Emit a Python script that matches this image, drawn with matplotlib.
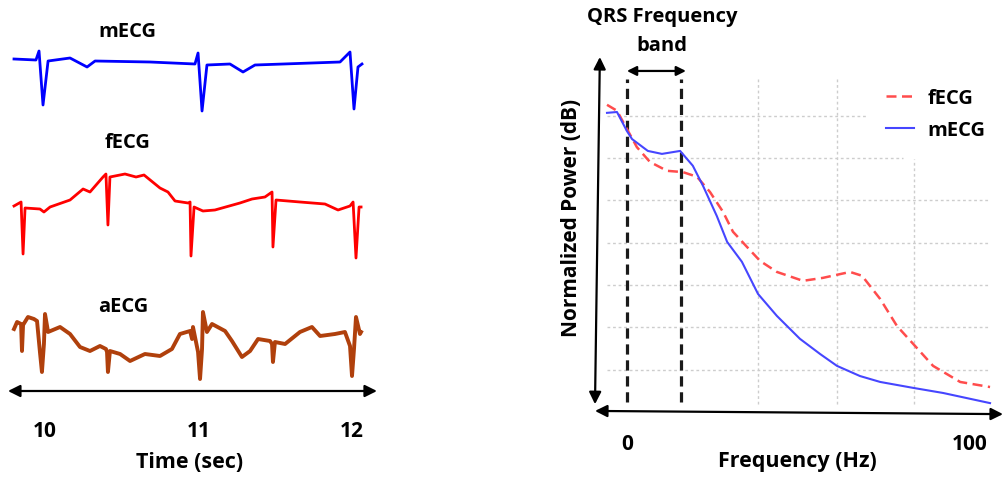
import matplotlib
matplotlib.use("Agg")
import matplotlib.pyplot as plt

plt.rcParams['font.family'] = ['Open Sans', 'DejaVu Sans']
plt.rcParams['font.weight'] = 'bold'
plt.rcParams['axes.labelweight'] = 'bold'

# ---- time traces (seconds, normalized amplitude) ----
m_t = [9.798, 9.941, 9.961, 9.987, 10.020, 10.163, 10.274, 10.326, 10.684, 10.977,
       10.997, 11.023, 11.055, 11.205, 11.290, 11.368, 11.922, 11.987, 12.013, 12.039, 12.065]
m_a = [0, -0.02, 0.16, -0.92, -0.04, 0.02, -0.16, -0.04, -0.06, -0.10,
       0.12, -1.04, -0.12, -0.10, -0.26, -0.12, -0.06, 0.14, -1.0, -0.16, -0.10]

f_t = [9.798, 9.844, 9.857, 9.870, 9.967, 9.993, 10.033, 10.163, 10.248, 10.293,
       10.378, 10.397, 10.410, 10.423, 10.521, 10.593, 10.645, 10.749, 10.801, 10.847,
       10.932, 10.945, 10.951, 10.971, 11.029, 11.107, 11.270, 11.349, 11.433, 11.479,
       11.485, 11.505, 11.661, 11.824, 11.909, 11.987, 12.007, 12.026, 12.046, 12.059]
f_a = [0, 0.08, -0.96, -0.04, -0.06, -0.12, -0.02, 0.12, 0.34, 0.28,
       0.58, 0.64, -0.38, 0.58, 0.64, 0.58, 0.62, 0.36, 0.28, 0.10,
       0.06, 0.08, -1.00, -0.02, -0.10, -0.08, 0.06, 0.14, 0.18, 0.28,
       -0.82, 0.12, 0.08, 0.04, -0.08, 0, 0.08, -1.04, -0.02, -0.02]

a_t = [9.798, 9.818, 9.844, 9.850, 9.857, 9.889, 9.928, 9.948, 9.967, 9.980,
       9.993, 10.000, 10.020, 10.098, 10.163, 10.228, 10.293, 10.358, 10.397, 10.404,
       10.410, 10.423, 10.489, 10.554, 10.651, 10.749, 10.827, 10.879, 10.945, 10.958,
       10.964, 10.997, 11.010, 11.023, 11.029, 11.055, 11.088, 11.173, 11.218, 11.283,
       11.336, 11.388, 11.466, 11.479, 11.485, 11.498, 11.564, 11.661, 11.739, 11.792,
       11.889, 11.954, 11.987, 12.000, 12.013, 12.026, 12.052, 12.059]
a_a = [0, 0.14, 0.10, -0.44, 0.08, 0.24, 0.20, 0.16, -0.46, -0.86,
       -0.30, 0.30, -0.06, 0.04, -0.10, -0.36, -0.44, -0.34, -0.40, -0.46,
       -0.86, -0.44, -0.50, -0.64, -0.50, -0.54, -0.40, -0.10, -0.04, -0.20,
       0.04, -0.46, -1.00, -0.40, 0.34, -0.06, 0.10, -0.04, -0.24, -0.56,
       -0.44, -0.20, -0.24, -0.30, -0.66, -0.26, -0.30, -0.06, 0.04, -0.14,
       -0.10, -0.06, -0.34, -0.94, -0.40, 0.24, -0.10, -0.06]

offsets = [0, -2.94, -5.4]
names = ['mECG', 'fECG', 'aECG']
time_ticks = [10, 11, 12]

# ---- spectra (Hz, normalized power dB) ----
spec_f_m = [-5.8, -2.9, 0, 1.5, 6.1, 10.2, 15.5, 19.2, 22.2, 26.2, 29.2, 33.5,
            38.2, 43.7, 50.4, 56.3, 61.2, 67.9, 73.8, 83.4, 92.1, 105.8]
spec_p_m = [70.7, 70.9, 66.4, 64.5, 61.7, 61.0, 61.7, 58.2, 53.4, 46.3, 40.2, 35.5,
            27.9, 22.7, 17.3, 13.7, 10.9, 8.5, 7.1, 5.7, 4.5, 2.1]
spec_f_f = [-5.8, -2.9, 0, 2.9, 6.7, 11.7, 16.3, 20.4, 24.2, 28.0, 30.9, 35.0,
            38.8, 43.7, 51.3, 57.1, 65.0, 68.5, 73.8, 78.7, 83.4, 89.2, 97.1, 105.8]
spec_p_f = [72.6, 71.2, 66.9, 62.6, 59.1, 57.0, 56.7, 55.6, 52.0, 47.3, 42.6, 39.0,
            35.7, 33.1, 31.0, 31.7, 33.1, 32.2, 26.7, 20.3, 16.1, 10.9, 7.1, 5.9]
band = [0, 15.7]
grid_p = [70, 60, 50, 40, 30, 20, 10]
grid_p_end = [70.3, 80.5, 105.8, 105.8, 105.8, 105.8, 105.8]
grid_f = [38.2, 61.2, 83.7]
grid_f_top = [78.7, 78.7, 59.8]

W, H = 1003, 481
fig = plt.figure(figsize=(W / 100, H / 100), dpi=100)

# ---------------- left panel ----------------
ax1 = fig.add_axes([0, (H - 392) / H, 380 / W, 392 / H])
ax1.set_xlim(9.7068, 12.1824)
ax1.set_ylim(-6.64, 1.2)
colors = ['#0000ff', '#ff0000', '#b0400c']
widths = [2.0, 2.0, 2.8]
for (t, a), off, c, lw in zip([(m_t, m_a), (f_t, f_a), (a_t, a_a)], offsets, colors, widths):
    ax1.plot(t, [v + off for v in a], color=c, lw=lw)
ax1.text(10.534, 0.56, names[0], ha='center', va='center', fontsize=14.5)
ax1.text(10.541, -1.66, names[1], ha='center', va='center', fontsize=14.5)
ax1.text(10.508, -4.94, names[2], ha='center', va='center', fontsize=14.5)
for s in ax1.spines.values():
    s.set_visible(False)
ax1.set_yticks([])
ax1.set_xticks(time_ticks)
ax1.tick_params(axis='x', length=0, pad=21, labelsize=15)
ax1.set_xlabel('Time (sec)', fontsize=15.5, labelpad=7)
ax1.annotate('', xy=(0.021, 0), xytext=(0.992, 0), xycoords='axes fraction',
             arrowprops=dict(arrowstyle='<|-|>', color='black', lw=1.6, mutation_scale=18,
                             shrinkA=0, shrinkB=0))

# ---------------- right panel ----------------
ax2 = fig.add_axes([595 / W, (H - 413) / H, 405 / W, 355 / H])
ax2.set_xlim(-9.3, 108.7)
ax2.set_ylim(0, 83.9)
for p, fe in zip(grid_p, grid_p_end):
    ax2.hlines(p, -5.8, fe, color='#cdcdcd', lw=1.0, linestyle=(0, (2, 2)))
for f, top in zip(grid_f, grid_f_top):
    ax2.vlines(f, 1.9, top, color='#cdcdcd', lw=1.0, linestyle=(0, (2, 2)))
for b in band:
    ax2.vlines(b, 2.4, 78.7, color='#1a1a1a', lw=2.3, linestyle=(0, (3.2, 1.8)))
ax2.plot(spec_f_f, spec_p_f, color='#ff4c4c', lw=1.8, linestyle=(0, (4, 2.2)), label='fECG')
ax2.plot(spec_f_m, spec_p_m, color='#4646ff', lw=1.5, label='mECG')
ax2.legend(loc='upper left', bbox_to_anchor=(0.675, 0.965), frameon=False, fontsize=14.5,
           handlelength=1.35, handletextpad=0.7, labelspacing=0.6)
for s in ax2.spines.values():
    s.set_visible(False)
ax2.set_yticks([])
ax2.set_xticks([0, 100])
ax2.tick_params(axis='x', length=0, pad=15, labelsize=15)
ax2.set_xlabel('Frequency (Hz)', fontsize=15.5, labelpad=-3)
ax2.set_ylabel('Normalized Power (dB)', fontsize=15)
ax2.yaxis.set_label_coords(-0.033, 0.55)
ax2.annotate('', xy=(0.012, 1.0), xytext=(0.0, 0.022), xycoords='axes fraction',
             arrowprops=dict(arrowstyle='<|-|>', color='black', lw=1.6, mutation_scale=18,
                             shrinkA=0, shrinkB=0))
ax2.annotate('', xy=(0.0, 0.003), xytext=(1.0074, -0.006), xycoords='axes fraction',
             arrowprops=dict(arrowstyle='<|-|>', color='black', lw=1.6, mutation_scale=18,
                             shrinkA=0, shrinkB=0))
ax2.annotate('', xy=(0, 80.6), xytext=(17.2, 80.6), xycoords='data',
             arrowprops=dict(arrowstyle='<|-|>', color='black', lw=1.6, mutation_scale=14,
                             shrinkA=0, shrinkB=0), annotation_clip=False)
ax2.text(10.2, 93.6, 'QRS Frequency', ha='center', va='center', fontsize=14.5)
ax2.text(10.2, 86.8, 'band', ha='center', va='center', fontsize=14.5)

fig.savefig('out.png', dpi=100)
